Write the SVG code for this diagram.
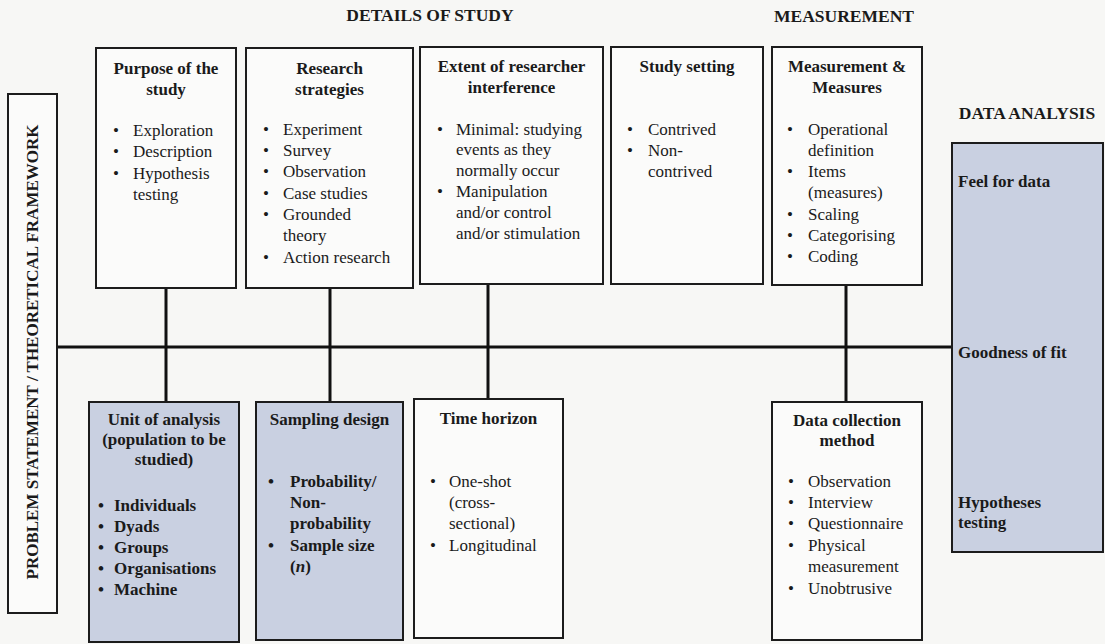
<svg xmlns="http://www.w3.org/2000/svg" width="1105" height="644" viewBox="0 0 1105 644">
  <style>
    .box { fill: #fbfbfa; stroke: #1c1c1c; stroke-width: 2; }
    .shade { fill: #c9d0e1; stroke: #1c1c1c; stroke-width: 2; }
    .link { stroke: #111; stroke-width: 3; fill: none; }
    text { font-family: "Liberation Serif", "Times New Roman", serif; font-size: 17px; fill: #1a1a1a; }
    .title { font-weight: bold; text-anchor: middle; }
    .head { font-weight: bold; font-size: 17.5px; text-anchor: middle; }
    .b { font-weight: bold; }
  </style>
  <rect x="0" y="0" width="1105" height="644" fill="#f7f7f5"/>

  <!-- section headings -->
  <g id="headings">
    <text class="head" x="430" y="21">DETAILS OF STUDY</text>
    <text class="head" x="844" y="22">MEASUREMENT</text>
    <text class="head" x="1027" y="119">DATA ANALYSIS</text>
  </g>

  <!-- connectors: spine and drop lines -->
  <g id="connectors">
    <line class="link" x1="57" y1="347" x2="952" y2="347"/>
    <line class="link" x1="166" y1="288" x2="166" y2="402"/>
    <line class="link" x1="330" y1="288" x2="330" y2="402"/>
    <line class="link" x1="488" y1="284" x2="488" y2="399"/>
    <line class="link" x1="846" y1="285" x2="846" y2="402"/>
  </g>

  <g id="framework">
    <rect class="box" x="8" y="94" width="49" height="519"/>
    <text class="b" font-size="16.5" text-anchor="middle" transform="translate(38 352) rotate(-90)">PROBLEM STATEMENT / THEORETICAL FRAMEWORK</text>
  </g>

  <g id="purpose">
    <rect class="box" x="96" y="48" width="140" height="240"/>
    <text class="title" x="166" y="74">Purpose of the</text>
    <text class="title" x="166" y="95">study</text>
    <text x="113" y="136">•</text><text x="133" y="136">Exploration</text>
    <text x="113" y="157">•</text><text x="133" y="157">Description</text>
    <text x="113" y="179">•</text><text x="133" y="179">Hypothesis</text>
    <text x="133" y="200">testing</text>
  </g>

  <g id="strategies">
    <rect class="box" x="246" y="48" width="167" height="240"/>
    <text class="title" x="329.5" y="74">Research</text>
    <text class="title" x="329.5" y="95">strategies</text>
    <text x="263" y="135">•</text><text x="283" y="135">Experiment</text>
    <text x="263" y="156">•</text><text x="283" y="156">Survey</text>
    <text x="263" y="177">•</text><text x="283" y="177">Observation</text>
    <text x="263" y="199">•</text><text x="283" y="199">Case studies</text>
    <text x="263" y="220">•</text><text x="283" y="220">Grounded</text>
    <text x="283" y="241">theory</text>
    <text x="263" y="263">•</text><text x="283" y="263">Action research</text>
  </g>

  <g id="interference">
    <rect class="box" x="420" y="47" width="183" height="237"/>
    <text class="title" x="511.5" y="72">Extent of researcher</text>
    <text class="title" x="511.5" y="93">interference</text>
    <text x="437" y="135">•</text><text x="456" y="135">Minimal: studying</text>
    <text x="456" y="155">events as they</text>
    <text x="456" y="176">normally occur</text>
    <text x="437" y="197">•</text><text x="456" y="197">Manipulation</text>
    <text x="456" y="218">and/or control</text>
    <text x="456" y="239">and/or stimulation</text>
  </g>

  <g id="setting">
    <rect class="box" x="611" y="47" width="152" height="237"/>
    <text class="title" x="687" y="72">Study setting</text>
    <text x="627" y="135">•</text><text x="648" y="135">Contrived</text>
    <text x="627" y="156">•</text><text x="648" y="156">Non-</text>
    <text x="648" y="177">contrived</text>
  </g>

  <g id="measures">
    <rect class="box" x="772" y="47" width="150" height="238"/>
    <text class="title" x="847" y="72">Measurement &amp;</text>
    <text class="title" x="847" y="93">Measures</text>
    <text x="787" y="135">•</text><text x="808" y="135">Operational</text>
    <text x="808" y="156">definition</text>
    <text x="787" y="177">•</text><text x="808" y="177">Items</text>
    <text x="808" y="198">(measures)</text>
    <text x="787" y="220">•</text><text x="808" y="220">Scaling</text>
    <text x="787" y="241">•</text><text x="808" y="241">Categorising</text>
    <text x="787" y="262">•</text><text x="808" y="262">Coding</text>
  </g>

  <g id="analysis">
    <rect class="shade" x="952" y="143" width="151" height="409"/>
    <text class="b" x="958" y="187">Feel for data</text>
    <text class="b" x="958" y="358">Goodness of fit</text>
    <text class="b" x="958" y="508">Hypotheses</text>
    <text class="b" x="958" y="528">testing</text>
  </g>

  <g id="unit">
    <rect class="shade" x="89" y="402" width="150" height="240"/>
    <text class="title" x="164" y="425">Unit of analysis</text>
    <text class="title" x="164" y="445">(population to be</text>
    <text class="title" x="164" y="465">studied)</text>
    <g class="b">
      <text x="98" y="511">•</text><text x="114" y="511">Individuals</text>
      <text x="98" y="532">•</text><text x="114" y="532">Dyads</text>
      <text x="98" y="553">•</text><text x="114" y="553">Groups</text>
      <text x="98" y="574">•</text><text x="114" y="574">Organisations</text>
      <text x="98" y="595">•</text><text x="114" y="595">Machine</text>
    </g>
  </g>

  <g id="sampling">
    <rect class="shade" x="256" y="402" width="147" height="238"/>
    <text class="title" x="329.5" y="425">Sampling design</text>
    <g class="b">
      <text x="268" y="487">•</text><text x="290" y="487">Probability/</text>
      <text x="290" y="508">Non-</text>
      <text x="290" y="529">probability</text>
      <text x="268" y="551">•</text><text x="290" y="551">Sample size</text>
      <text x="290" y="572">(<tspan font-style="italic">n</tspan>)</text>
    </g>
  </g>

  <g id="horizon">
    <rect class="box" x="414" y="399" width="149" height="239"/>
    <text class="title" x="488.5" y="424">Time horizon</text>
    <text x="430" y="487">•</text><text x="449" y="487">One-shot</text>
    <text x="449" y="508">(cross-</text>
    <text x="449" y="529">sectional)</text>
    <text x="430" y="551">•</text><text x="449" y="551">Longitudinal</text>
  </g>

  <g id="collection">
    <rect class="box" x="772" y="402" width="150" height="238"/>
    <text class="title" x="847" y="426">Data collection</text>
    <text class="title" x="847" y="446">method</text>
    <text x="788" y="487">•</text><text x="808" y="487">Observation</text>
    <text x="788" y="508">•</text><text x="808" y="508">Interview</text>
    <text x="788" y="529">•</text><text x="808" y="529">Questionnaire</text>
    <text x="788" y="551">•</text><text x="808" y="551">Physical</text>
    <text x="808" y="572">measurement</text>
    <text x="788" y="594">•</text><text x="808" y="594">Unobtrusive</text>
  </g>
</svg>
